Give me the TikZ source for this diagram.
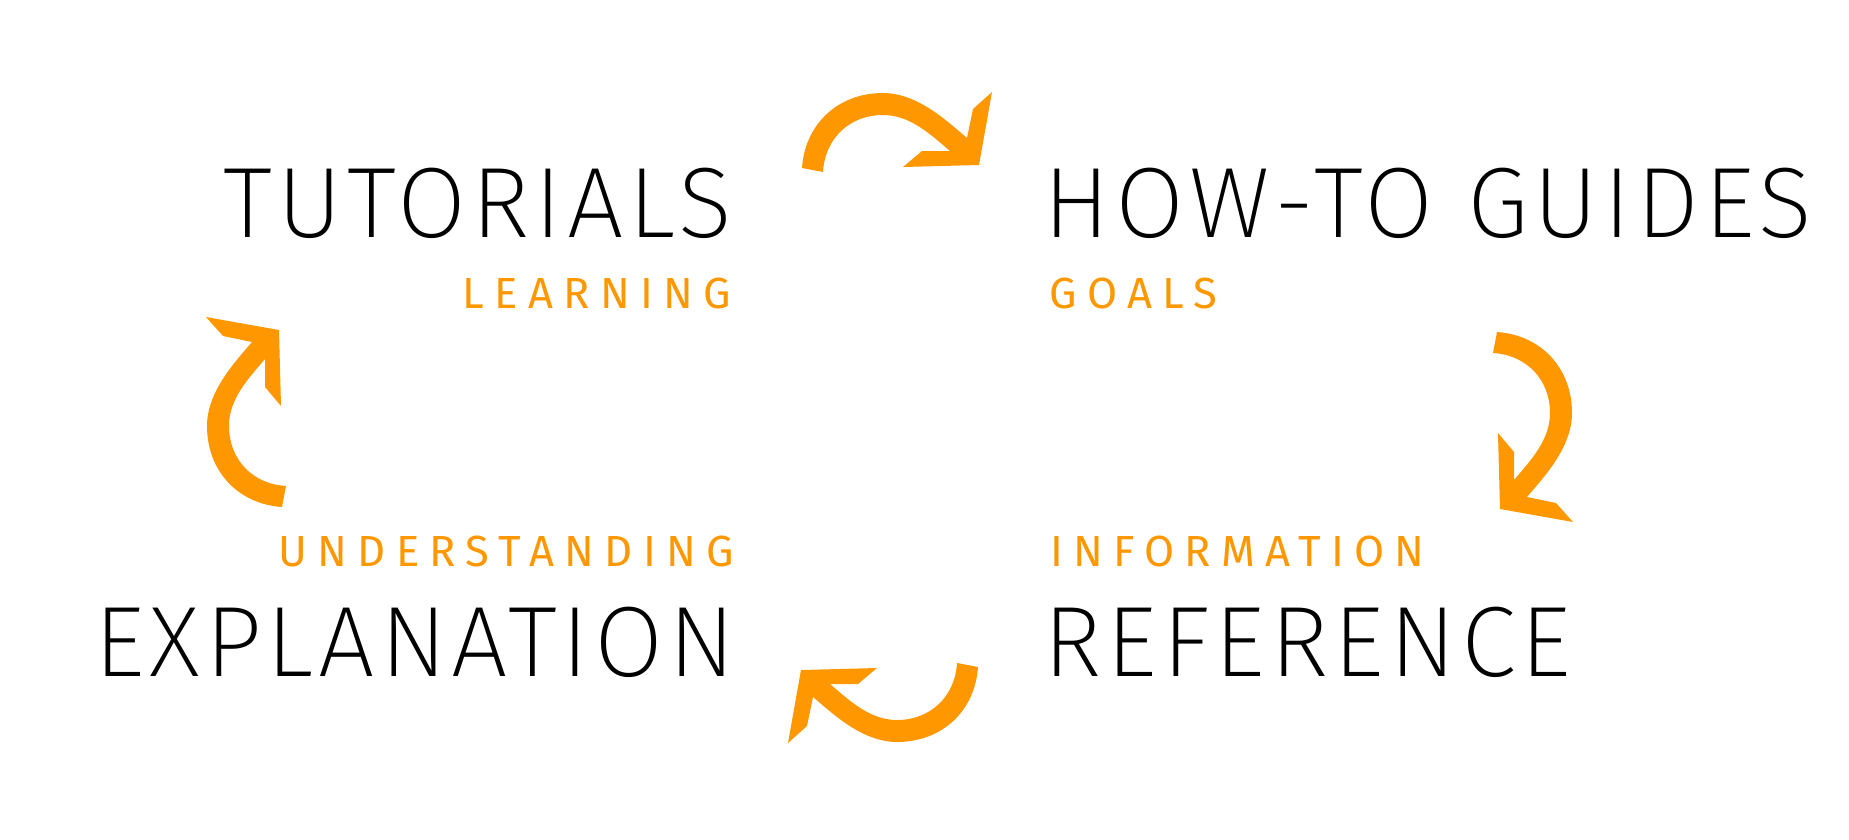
\documentclass[tikz,border=0pt]{standalone}
\usepackage{fontspec}
\usepackage{tikz}
\newfontfamily\headingfont[LetterSpace=5]{Fira Sans ExtraLight}
\newfontfamily\tagfont[LetterSpace=23.5]{Fira Sans}
\definecolor{cycleorange}{RGB}{255,152,0}
\tikzset{
  heading/.style={inner sep=0pt, font=\headingfont\fontsize{45}{54}\selectfont},
  subtag/.style={inner sep=0pt, text=cycleorange, font=\tagfont\fontsize{19.6}{24}\selectfont}
}
% #1 centre, #2 rotation
\newcommand{\turnarrow}[2]{%
  \fill[cycleorange, shift={(#1)}, rotate=#2] (-95,36) .. controls (-92,-8) and (-59,-39) .. (-14,-39) .. controls (21,-39) and (51,-10) .. (70,6) -- (76,-23) -- (95,-40) -- (82,33) -- (6,35) -- (25,19) -- (53,19) .. controls (33,2) and (13,-17) .. (-14,-17) .. controls (-47,-17) and (-72,6) .. (-74,40) -- cycle;%
}

\begin{document}
\begin{tikzpicture}[x=0.45pt, y=0.45pt, yscale=-1, xscale=1]
\useasboundingbox (0,0) rectangle (1849,839);
%Text
\node (tut) [heading, anchor=base east] at (733,237) {TUTORIALS};
\node (how) [heading, anchor=base west] at (1043,237) {HOW-TO GUIDES};
\node (expl) [heading, anchor=base east] at (736,676) {EXPLANATION};
\node (ref) [heading, anchor=base west] at (1043,676) {REFERENCE};
\node (learn) [subtag, anchor=base east] at (731,308) {LEARNING};
\node (goals) [subtag, anchor=base west] at (1049,308) {GOALS};
\node (under) [subtag, anchor=base east] at (734,566) {UNDERSTANDING};
\node (info) [subtag, anchor=base west] at (1050,566) {INFORMATION};
%Arrows
\turnarrow{897,132}{0}
\turnarrow{1533,427}{90}
\turnarrow{883,703}{180}
\turnarrow{246,412}{270}
\end{tikzpicture}
\end{document}
